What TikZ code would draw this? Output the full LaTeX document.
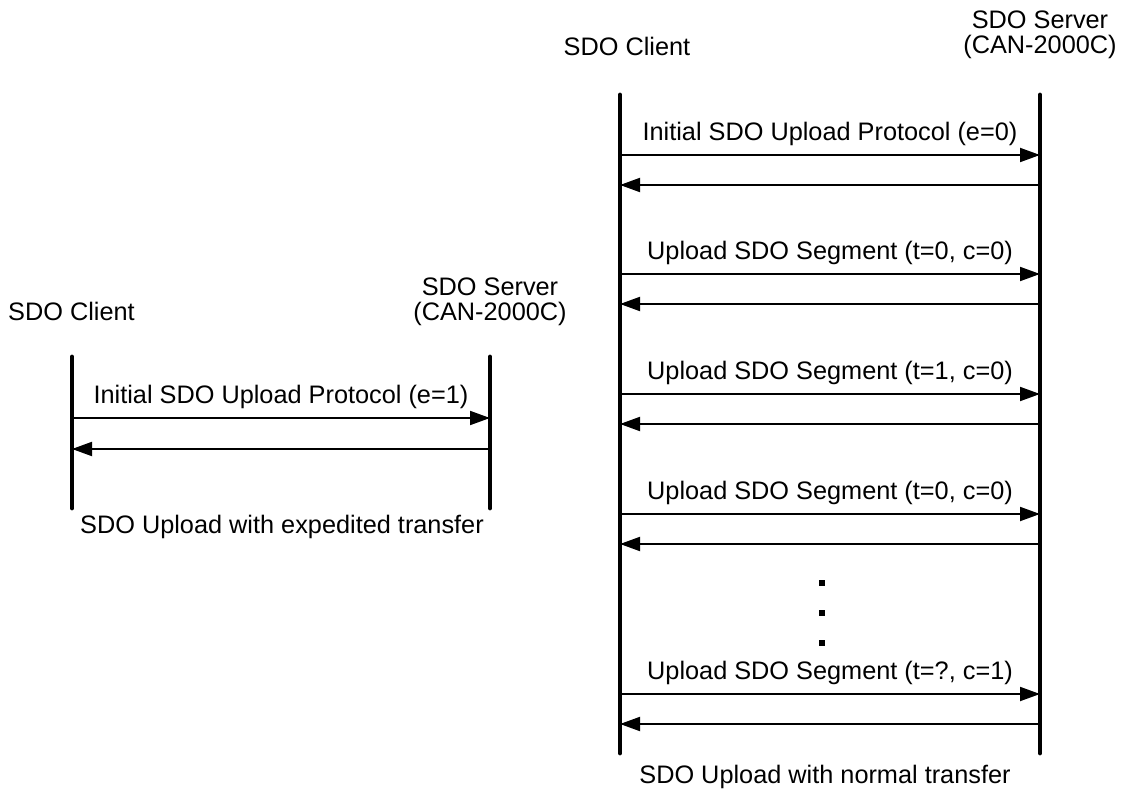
\documentclass[tikz,border=0pt]{standalone}
\usepackage{fontspec}
\setmainfont{Liberation Sans}
\usetikzlibrary{arrows.meta,positioning}
\tikzset{
  txt/.style={font=\fontsize{25.3}{25.5}\selectfont,inner sep=0pt},
  actor/.style={txt,align=center},
  life/.style={line width=4.8pt,line cap=round},
  msg/.style={-{Triangle[length=20pt,width=14pt]},line width=1.9pt},
  msglbl/.style={txt,above=8.5pt},
  dotmark/.style={fill=black,minimum size=6pt,inner sep=0pt},
}
\begin{document}
\begin{tikzpicture}[x=1pt,y=-1pt]
  \useasboundingbox (0,0) rectangle (1121,791);

  % expedited transfer
  \coordinate (ecTop) at (72,357);   \coordinate (ecBot) at (72,508);
  \coordinate (esTop) at (490,357);  \coordinate (esBot) at (490,508);
  \draw[life] (ecTop) -- (ecBot);
  \draw[life] (esTop) -- (esBot);
  \node[actor,anchor=west] (ecName) at (8,311) {SDO Client};
  \node[actor] (esName) at (490,302) {SDO Server\\(CAN-2000C)};
  \coordinate (ea) at (72,418);  \coordinate (eb) at (490,418);
  \coordinate (ec) at (72,449);  \coordinate (ed) at (490,449);
  \draw[msg] (ea) -- (eb) node[msglbl,midway] (eLbl) {Initial SDO Upload Protocol (e=1)};
  \draw[msg] (ed) -- (ec);
  \node[txt] (eCap) at (282,527) {SDO Upload with expedited transfer};

  % normal transfer
  \coordinate (ncTop) at (620,95);   \coordinate (ncBot) at (620,753);
  \coordinate (nsTop) at (1040,95);  \coordinate (nsBot) at (1040,753);
  \draw[life] (ncTop) -- (ncBot);
  \draw[life] (nsTop) -- (nsBot);
  \node[actor] (ncName) at (627,46) {SDO Client};
  \node[actor] (nsName) at (1040,35) {SDO Server\\(CAN-2000C)};
  \foreach \y/\lbl [count=\i] in {155/Initial SDO Upload Protocol (e=0),
      274/{Upload SDO Segment (t=0, c=0)}, 394/{Upload SDO Segment (t=1, c=0)},
      514/{Upload SDO Segment (t=0, c=0)}, 694/{Upload SDO Segment (t=?, c=1)}} {
    \coordinate (req\i) at (620,\y);   \coordinate (srv\i) at (1040,\y);
    \coordinate (rsp\i) at (620,\y+30); \coordinate (snd\i) at (1040,\y+30);
    \draw[msg] (req\i) -- (srv\i) node[msglbl,midway] (lbl\i) {\lbl};
    \draw[msg] (snd\i) -- (rsp\i);
  }
  \foreach \y [count=\i] in {583,613,643}
    \node[dotmark] (dot\i) at (822,\y) {};
  \node[txt] (nCap) at (825,777) {SDO Upload with normal transfer};
\end{tikzpicture}
\end{document}
